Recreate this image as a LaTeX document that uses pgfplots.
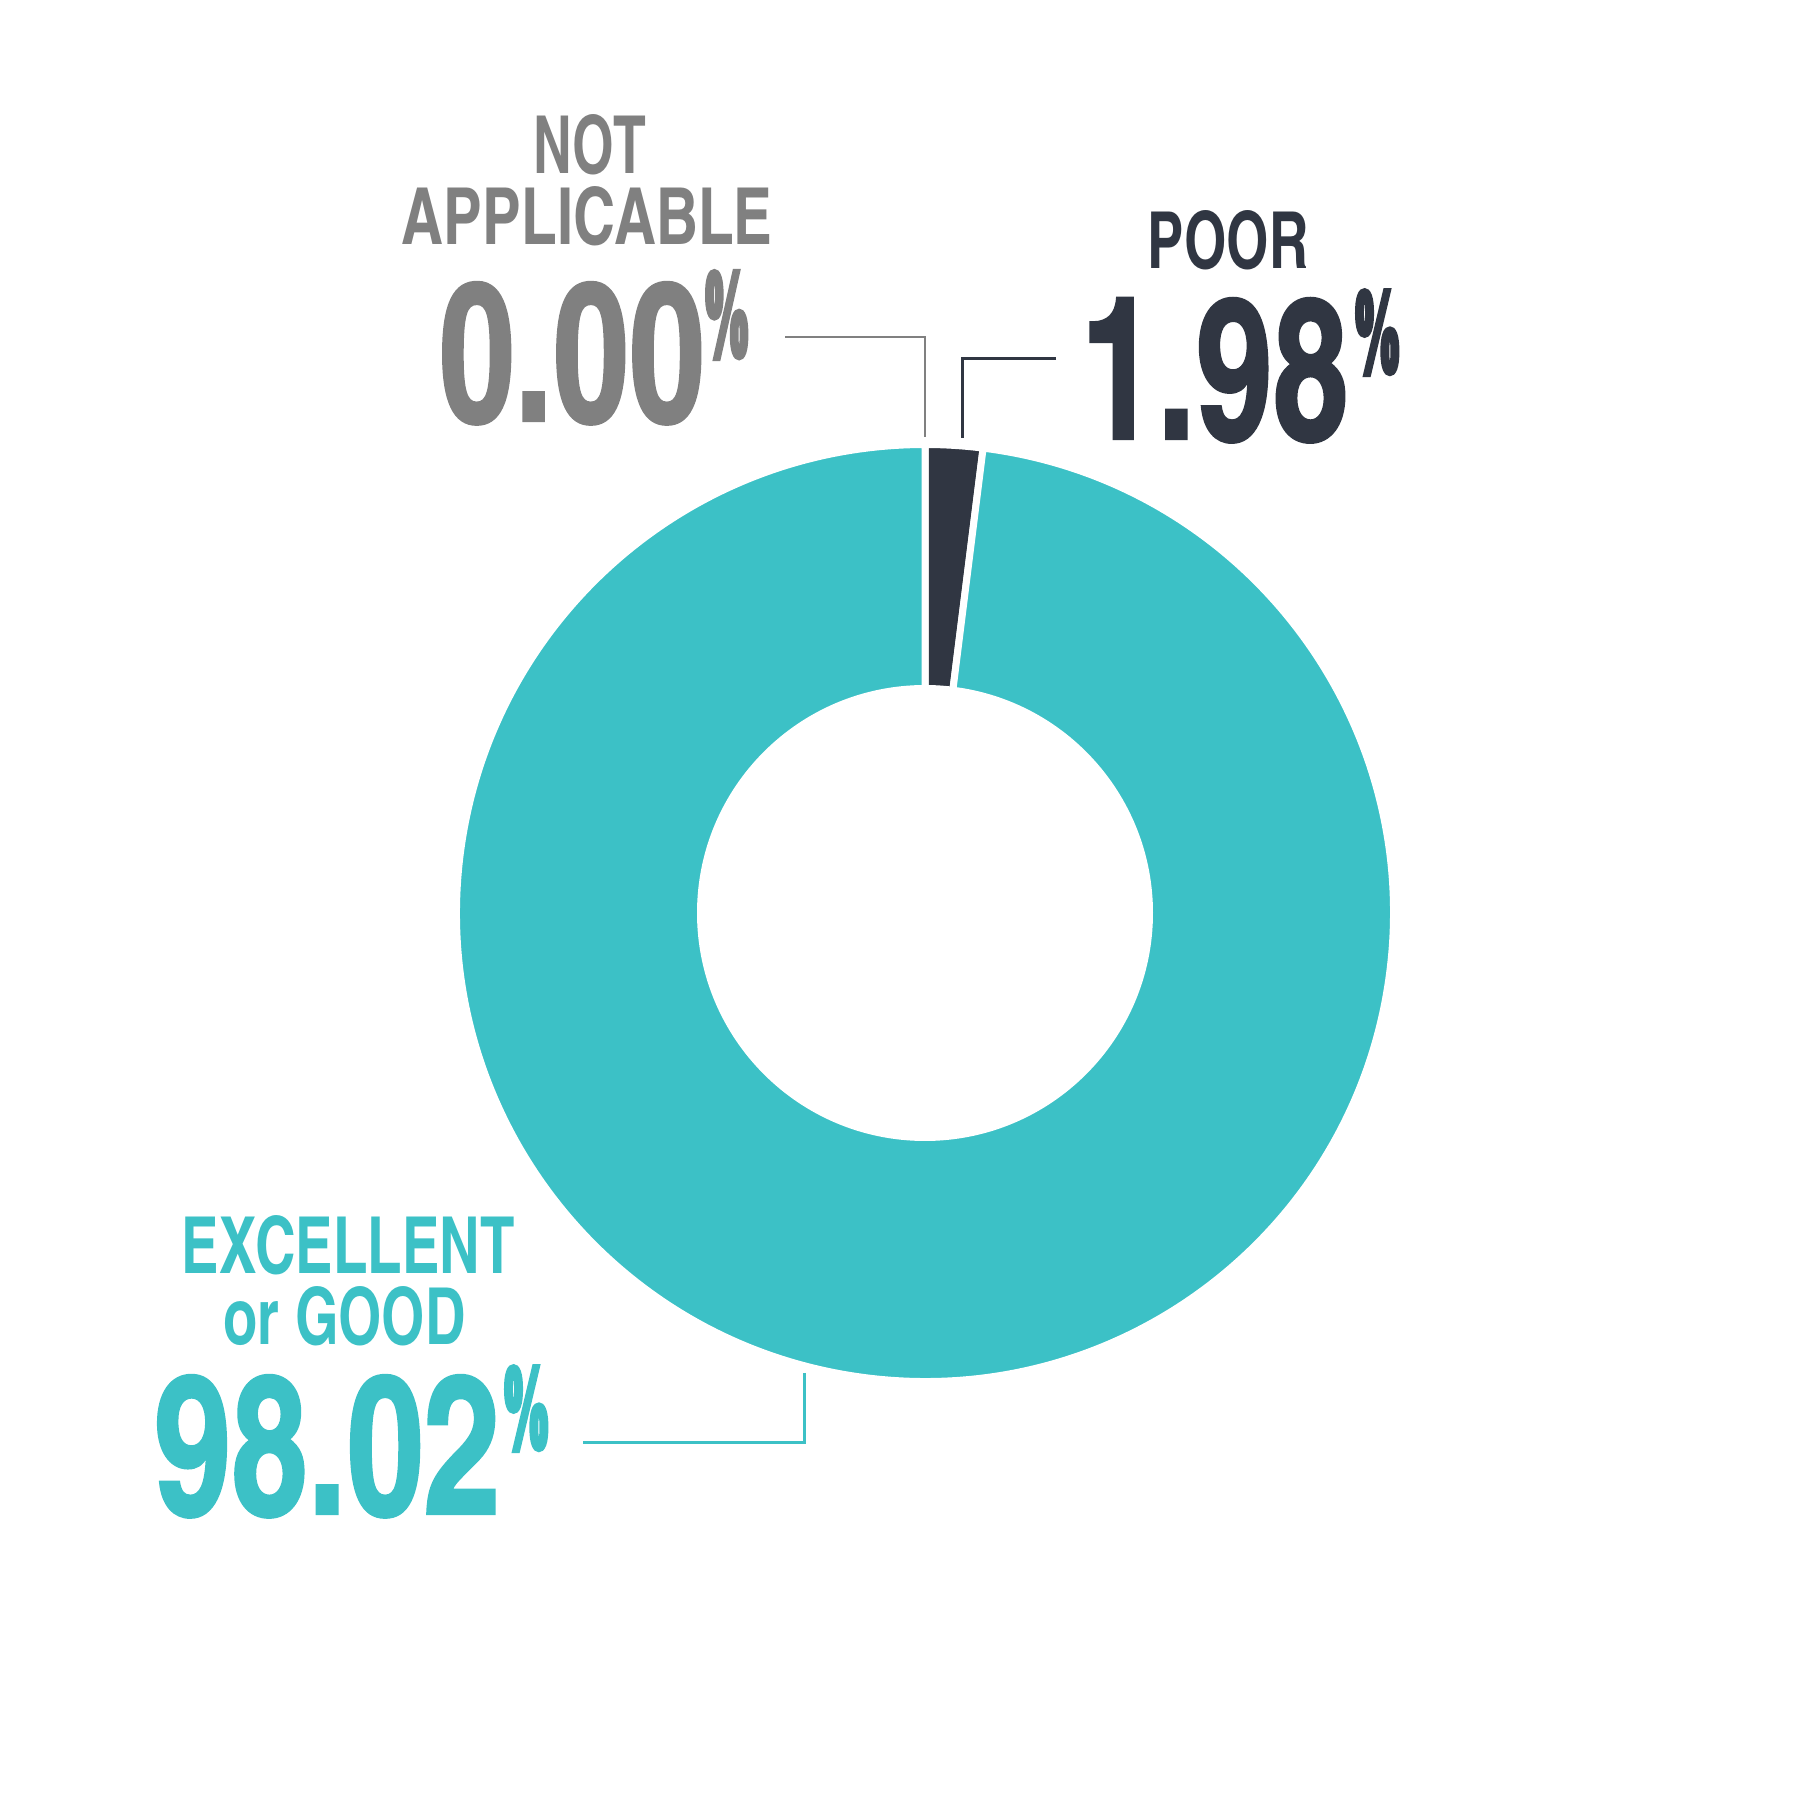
\documentclass[border=0pt]{standalone}
\usepackage{pgfplots}
\pgfplotsset{compat=1.18}
\usepackage{pgfplotstable}
\usepackage{graphicx}
\usepackage{fontspec}
\newfontfamily\dinfont{texgyreheroscn-bold.otf}
\newfontfamily\dinnum{texgyreheroscn-bold.otf}[FakeBold=1.2]
\newfontfamily\dinpct{texgyreheroscn-bold.otf}[FakeBold=7]

\definecolor{tealc}{HTML}{3CC1C6}
\definecolor{darkc}{HTML}{303642}
\definecolor{grayc}{HTML}{808080}

% shares of the ratings, in percent
\pgfplotstableread{
category value
NotApplicable 0.00
Poor 1.98
ExcellentGood 98.02
}\donutdata

\pgfplotstablegetelem{0}{value}\of\donutdata \let\vna\pgfplotsretval
\pgfplotstablegetelem{1}{value}\of\donutdata \let\vpoor\pgfplotsretval
\pgfplotstablegetelem{2}{value}\of\donutdata \let\vexc\pgfplotsretval
% clockwise from the top
\pgfmathsetmacro\aA{90}
\pgfmathsetmacro\aB{\aA-3.6*\vna}
\pgfmathsetmacro\aC{\aB-3.6*\vpoor}
\pgfmathsetmacro\aD{\aC-3.6*\vexc}

% color, start angle, end angle (1 axis unit = 0.01cm)
\newcommand\donutslice[3]{%
  \fill[#1, draw=white, line width=0.07cm, line join=round]
    (axis cs:925,887) ++(#2:4.685cm)
    arc[start angle=#2, end angle=#3, radius=4.685cm]
    -- ++(#3+180:2.44cm)
    arc[start angle=#3, end angle=#2, radius=2.245cm] -- cycle;
}

\begin{document}
\begin{tikzpicture}
\begin{axis}[
width=18cm, height=18cm, scale only axis,
xmin=0, xmax=1800, ymin=0, ymax=1800,
hide axis, clip=false,
]
\path (rel axis cs:0,0) rectangle (rel axis cs:1,1);

\donutslice{grayc}{\aA}{\aB}
\donutslice{darkc}{\aB}{\aC}
\donutslice{tealc}{\aC}{\aD}

% leaders
\draw[grayc, line width=0.025cm] (axis cs:785,1463) -- (axis cs:925,1463) -- (axis cs:925,1363);
\draw[darkc, line width=0.03cm] (axis cs:1056,1441) -- (axis cs:962,1441) -- (axis cs:962,1362);
\draw[tealc, line width=0.03cm] (axis cs:804,427) -- (axis cs:804,357) -- (axis cs:583,357);

% not applicable
\node[anchor=base west, inner sep=0pt, text=grayc] at (axis cs:533,1626) {\resizebox{1.13cm}{0.59cm}{\dinfont NOT}};
\node[anchor=base west, inner sep=0pt, text=grayc] at (axis cs:401,1555) {\resizebox{3.71cm}{0.58cm}{\dinfont APPLICABLE}};
\node[anchor=base west, inner sep=0pt, text=grayc] at (axis cs:438,1379) {\resizebox{2.66cm}{1.39cm}{\dinnum 0.00}};
\node[anchor=base west, inner sep=0pt, text=grayc] at (axis cs:705,1445) {\resizebox{0.42cm}{0.82cm}{\dinpct \%}};

% poor
\node[anchor=base west, inner sep=0pt, text=darkc] at (axis cs:1147,1531) {\resizebox{1.61cm}{0.58cm}{\dinfont POOR}};
\node[anchor=base west, inner sep=0pt, text=darkc] at (axis cs:1080,1361) {\resizebox{2.68cm}{1.41cm}{\dinnum 1.98}};
\node[anchor=base west, inner sep=0pt, text=darkc] at (axis cs:1355,1429) {\resizebox{0.43cm}{0.79cm}{\dinpct \%}};

% excellent or good
\node[anchor=base west, inner sep=0pt, text=tealc] at (axis cs:181,526) {\resizebox{3.33cm}{0.58cm}{\dinfont EXCELLENT}};
\node[anchor=base west, inner sep=0pt, text=tealc] at (axis cs:223,455) {\resizebox{2.42cm}{0.58cm}{\dinfont or GOOD}};
\node[anchor=base west, inner sep=0pt, text=tealc] at (axis cs:153,286) {\resizebox{3.47cm}{1.39cm}{\dinnum 98.02}};
\node[anchor=base west, inner sep=0pt, text=tealc] at (axis cs:504,353) {\resizebox{0.43cm}{0.79cm}{\dinpct \%}};
\end{axis}
\end{tikzpicture}
\end{document}
